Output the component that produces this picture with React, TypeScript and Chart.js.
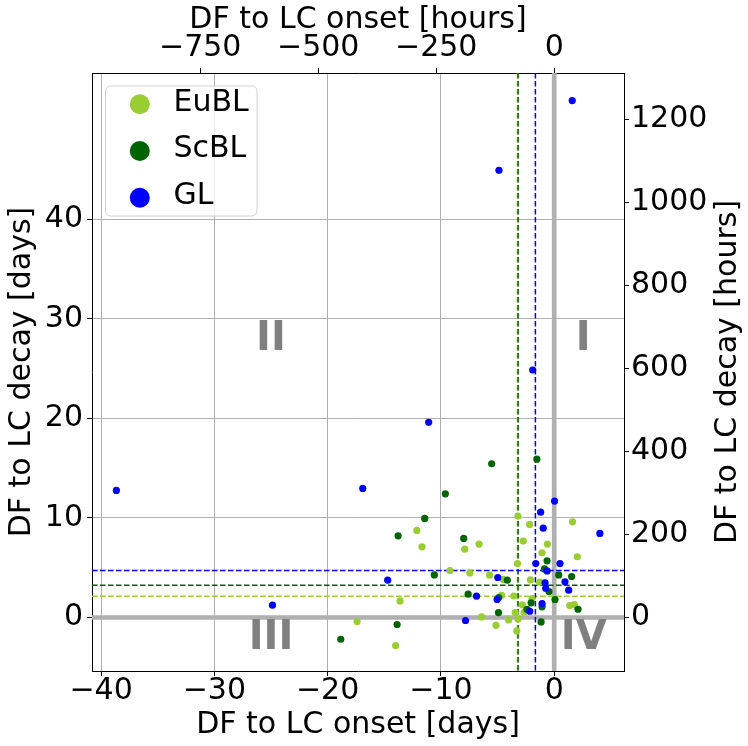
import React, { useEffect, useRef } from 'react';
import { Chart, registerables } from 'chart.js';

Chart.register(...registerables);

// ---- data (days) ----
const seriesNames = ['EuBL', 'ScBL', 'GL'];
const seriesColors = ['#9acd32', '#006400', '#0000ff'];

const eublOnset = [-3.2, 1.62, -2.17, -12.13, -11.67, -7.9, -6.64, -2.73, -0.6, -1.08, 2.04, -3.24, -9.2, -7.45, -5.7, -4.5, -2.1, -1.28, -13.61, -4.66, -3.57, -1.96, -2.82, 1.37, 1.78, -2.66, -3.44, -6.42, -3.19, -4.03, -5.14, -3.3, -17.4, -14.0];
const eublDecay = [10.18, 9.61, 9.35, 8.74, 7.1, 6.86, 7.37, 7.67, 7.37, 6.5, 6.1, 5.42, 4.72, 4.48, 4.25, 3.82, 3.78, 3.55, 1.67, 2.24, 2.16, 1.91, 1.27, 1.2, 1.3, 0.53, 0.5, 0.06, -0.14, -0.24, -0.78, -1.35, -0.4, -2.81];

const scblOnset = [-5.52, -1.53, -9.61, -11.43, -13.78, -7.99, -0.63, -0.86, 0.4, 1.54, -10.58, -4.14, -0.46, -7.6, -4.9, -2.04, -1.07, 0.07, 2.1, -2.4, -4.92, -1.16, -13.87, -18.84];
const scblDecay = [15.44, 15.9, 12.42, 9.95, 8.2, 7.94, 5.69, 4.88, 4.28, 4.12, 4.28, 3.75, 2.61, 2.34, 2.0, 1.47, 1.07, 1.81, 0.83, 0.83, 0.5, -0.44, -0.7, -2.18];

const glOnset = [-38.65, -16.9, -24.87, -14.7, -11.08, -4.88, 1.59, -1.9, 0.03, -1.2, -0.97, 4.03, -1.63, 0.51, -0.63, 0.95, -4.98, -0.81, -0.75, 1.28, -6.86, -5.04, -1.07, -2.16, -7.83];
const glDecay = [12.76, 12.96, 1.24, 3.75, 19.6, 44.9, 51.9, 24.85, 11.69, 10.58, 8.97, 8.44, 5.42, 5.42, 4.68, 3.58, 4.02, 3.48, 2.94, 2.74, 2.14, 1.81, 1.4, 0.63, -0.3];

// median reference lines (days), order: EuBL, ScBL, GL
const medianOnset = [-3.24, -3.19, -1.66];
const medianDecay = [2.14, 3.25, 4.72];

// tick labels
const daysTicksX = [-40, -30, -20, -10, 0];
const hoursTicksX = [-750, -500, -250, 0];
const daysTicksY = [0, 10, 20, 30, 40];
const hoursTicksY = [0, 200, 400, 600, 800, 1000, 1200];

// quadrant labels
const quadrantLabels = ['I', 'II', 'III', 'IV'];
const quadrantX = [2.55, -25.0, -25.0, 2.6];
const quadrantY = [27.9, 27.9, -2.1, -2.1];

const HOURS_PER_DAY = 24;
const X_MIN = -40.8;
const X_MAX = 6.16;
const Y_MIN = -5.37;
const Y_MAX = 54.67;

const FAMILY = 'DejaVu Sans';
const font = { family: FAMILY, size: 30, lineHeight: 1 };
const fmt = (v: number | string) => String(v).replace('-', '\u2212');

function toPoints(xs: number[], ys: number[]) {
  return xs.map((x, i) => ({ x, y: ys[i] }));
}

const overlayPlugin = {
  id: 'overlay',
  beforeDatasetsDraw(chart: any) {
    const { ctx, chartArea: a, scales } = chart;
    const x = scales.x;
    const y = scales.y;
    ctx.save();
    ctx.beginPath();
    ctx.rect(a.left, a.top, a.right - a.left, a.bottom - a.top);
    ctx.clip();
    // zero lines
    ctx.strokeStyle = '#b0b0b0';
    ctx.lineWidth = 4.7;
    ctx.setLineDash([]);
    const x0 = x.getPixelForValue(0);
    const y0 = y.getPixelForValue(0);
    ctx.beginPath();
    ctx.moveTo(x0, a.top);
    ctx.lineTo(x0, a.bottom);
    ctx.moveTo(a.left, y0);
    ctx.lineTo(a.right, y0);
    ctx.stroke();
    // median dashed lines
    ctx.lineWidth = 1.5;
    ctx.setLineDash([5.6, 2.4]);
    for (let i = 0; i < seriesNames.length; i++) {
      ctx.strokeStyle = seriesColors[i];
      const px = x.getPixelForValue(medianOnset[i]);
      const py = y.getPixelForValue(medianDecay[i]);
      ctx.beginPath();
      ctx.moveTo(px, a.top);
      ctx.lineTo(px, a.bottom);
      ctx.stroke();
      ctx.beginPath();
      ctx.moveTo(a.left, py);
      ctx.lineTo(a.right, py);
      ctx.stroke();
    }
    ctx.restore();
  },
  afterDatasetsDraw(chart: any) {
    const { ctx, scales } = chart;
    ctx.save();
    ctx.fillStyle = '#808080';
    ctx.font = `bold 40px "${FAMILY}"`;
    ctx.textAlign = 'center';
    ctx.textBaseline = 'middle';
    quadrantLabels.forEach((t, i) => {
      ctx.fillText(t, scales.x.getPixelForValue(quadrantX[i]), scales.y.getPixelForValue(quadrantY[i]));
    });
    ctx.restore();
  },
  afterDraw(chart: any) {
    const { ctx, chartArea: a } = chart;
    ctx.save();
    // legend
    const bx = a.left + 13.5, by = a.top + 13, bw = 151.5, bh = 130;
    ctx.beginPath();
    (ctx as any).roundRect(bx, by, bw, bh, 5);
    ctx.fillStyle = 'rgba(255,255,255,0.8)';
    ctx.fill();
    ctx.strokeStyle = '#d0d0d0';
    ctx.lineWidth = 1;
    ctx.stroke();
    ctx.font = `30px "${FAMILY}"`;
    ctx.textAlign = 'left';
    ctx.textBaseline = 'middle';
    seriesNames.forEach((name, i) => {
      const cy = by + 18.3 + i * 46.7;
      ctx.beginPath();
      ctx.arc(bx + 34.3, cy, 10, 0, Math.PI * 2);
      ctx.fillStyle = seriesColors[i];
      ctx.fill();
      ctx.fillStyle = '#000';
      ctx.fillText(name, bx + 68, cy - 1.5);
    });
    // right axis title (reads bottom to top)
    ctx.translate(728, (a.top + a.bottom) / 2);
    ctx.rotate(-Math.PI / 2);
    ctx.textAlign = 'center';
    ctx.textBaseline = 'middle';
    ctx.fillStyle = '#000';
    ctx.fillText('DF to LC decay [hours]', 0, 0);
    ctx.restore();
  },
};

const tickSet = (vals: number[]) => (s: any) => {
  s.ticks = vals.map((v) => ({ value: v }));
};

export default function App() {
  const ref = useRef<HTMLCanvasElement | null>(null);
  useEffect(() => {
    document.body.style.margin = '0';
    if (!ref.current) return;
    const gridCommon = { tickColor: '#000', tickLength: 5, tickWidth: 1 };
    const chart = new Chart(ref.current, {
      type: 'scatter',
      data: {
        datasets: [
          { label: seriesNames[0], data: toPoints(eublOnset, eublDecay), backgroundColor: seriesColors[0], order: 3 },
          { label: seriesNames[1], data: toPoints(scblOnset, scblDecay), backgroundColor: seriesColors[1], order: 2 },
          { label: seriesNames[2], data: toPoints(glOnset, glDecay), backgroundColor: seriesColors[2], order: 1 },
        ].map((d) => ({ ...d, pointRadius: 3.6, pointBorderWidth: 0, borderWidth: 0, pointHoverRadius: 3.6, xAxisID: 'x', yAxisID: 'y' })),
      },
      options: {
        animation: false,
        responsive: false,
        devicePixelRatio: 1,
        events: [],
        layout: { padding: 0 },
        plugins: { legend: { display: false }, tooltip: { enabled: false } },
        scales: {
          x: {
            type: 'linear', position: 'bottom', min: X_MIN, max: X_MAX,
            afterBuildTicks: tickSet(daysTicksX),
            afterFit: (s: any) => { s.height = 75; s.paddingLeft = 0; s.paddingRight = 0; },
            ticks: { font, color: '#000', padding: 0, maxRotation: 0, autoSkip: false, callback: fmt },
            grid: { ...gridCommon, color: '#b0b0b0', lineWidth: 1 },
            border: { color: '#000', width: 1 },
            title: { display: true, text: 'DF to LC onset [days]', font, color: '#000', padding: { top: 0, bottom: 6 } },
          },
          x2: {
            type: 'linear', position: 'top', min: X_MIN * HOURS_PER_DAY, max: X_MAX * HOURS_PER_DAY,
            afterBuildTicks: tickSet(hoursTicksX),
            afterFit: (s: any) => { s.height = 73; s.paddingLeft = 0; s.paddingRight = 0; },
            ticks: { font, color: '#000', padding: 4.3, maxRotation: 0, autoSkip: false, callback: fmt },
            grid: { ...gridCommon, drawOnChartArea: false },
            border: { color: '#000', width: 1 },
            title: { display: true, text: 'DF to LC onset [hours]', font, color: '#000', padding: { top: 5.5, bottom: 0 } },
          },
          y: {
            type: 'linear', position: 'left', min: Y_MIN, max: Y_MAX,
            afterBuildTicks: tickSet(daysTicksY),
            afterFit: (s: any) => { s.width = 92; s.paddingTop = 0; s.paddingBottom = 0; },
            ticks: { font, color: '#000', padding: 4, autoSkip: false, callback: fmt },
            grid: { ...gridCommon, color: '#b0b0b0', lineWidth: 1 },
            border: { color: '#000', width: 1 },
            title: { display: true, text: 'DF to LC decay [days]', font, color: '#000', padding: { top: 7.4, bottom: 0 } },
          },
          y2: {
            type: 'linear', position: 'right', min: Y_MIN * HOURS_PER_DAY, max: Y_MAX * HOURS_PER_DAY,
            afterBuildTicks: tickSet(hoursTicksY),
            afterFit: (s: any) => { s.width = 124; s.paddingTop = 0; s.paddingBottom = 0; },
            ticks: { font, color: '#000', padding: 2, autoSkip: false, callback: fmt },
            grid: { ...gridCommon, drawOnChartArea: false },
            border: { color: '#000', width: 1 },
            title: { display: false },
          },
        },
      } as any,
      plugins: [overlayPlugin],
    });
    return () => chart.destroy();
  }, []);
  return (
    <div style={{ width: 748, height: 746 }}>
      <canvas ref={ref} width={748} height={746} style={{ display: 'block' }} />
    </div>
  );
}
